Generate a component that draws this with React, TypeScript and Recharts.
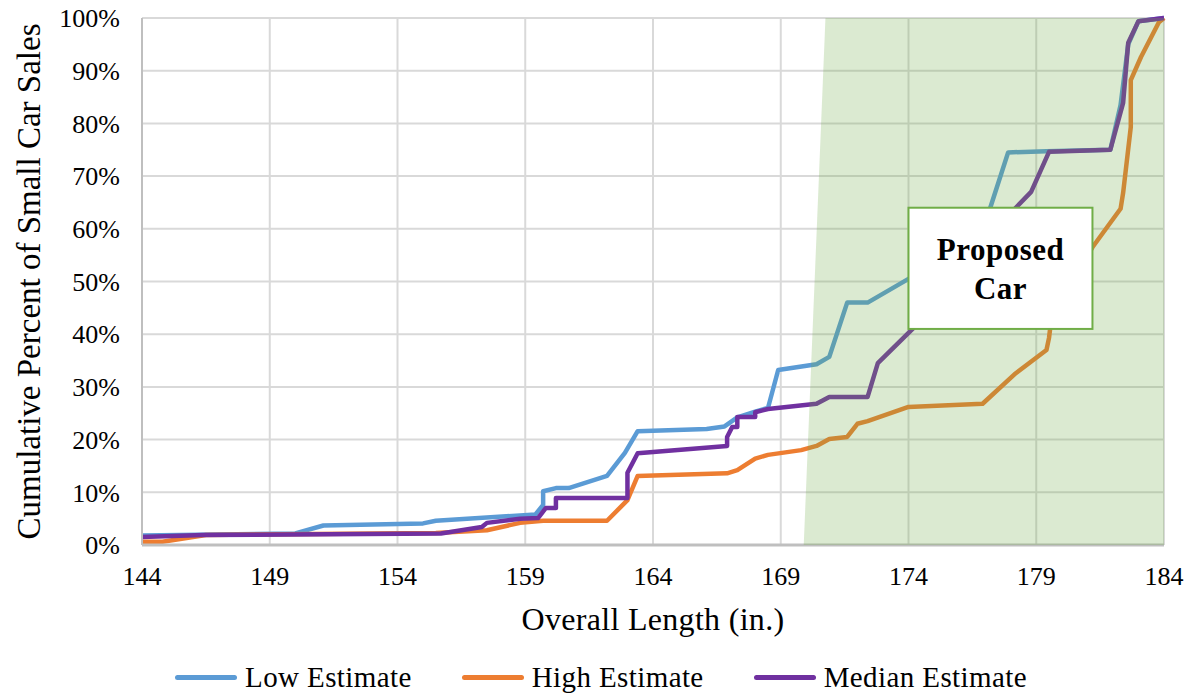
import {
  LineChart,
  Line,
  XAxis,
  YAxis,
  CartesianGrid,
  Legend,
  ReferenceArea,
} from 'recharts';

const FONT = '"Liberation Serif", "Times New Roman", serif';

// overall length (in.) and cumulative percent per series
const lowLength = [144, 150.0, 151.1, 155.0, 155.5, 159.4, 159.7, 159.7, 160.2, 160.7, 162.2, 162.9, 163.4, 166.1, 166.8, 167.3, 168.0, 168.5, 168.9, 170.4, 170.9, 171.6, 172.4, 174.0, 176.0, 177.2, 177.9, 179.4, 181.9, 182.3, 182.6, 183.0, 184];
const lowPct = [1.8, 2.2, 3.7, 4.1, 4.6, 5.8, 7.6, 10.2, 10.8, 10.8, 13.1, 17.5, 21.6, 22.0, 22.5, 24.2, 25.3, 26.0, 33.2, 34.3, 35.7, 46.0, 46.0, 50.5, 56.0, 64.0, 74.5, 74.7, 75.0, 83.5, 95.0, 99.4, 100];

const highLength = [144, 144.8, 146.5, 155.5, 157.5, 158.8, 159.7, 162.2, 163.0, 163.4, 166.9, 167.3, 168.0, 168.5, 169.8, 170.4, 170.9, 171.6, 172.0, 172.4, 174.0, 176.9, 178.2, 179.4, 179.5, 179.6, 181.2, 182.3, 182.4, 182.7, 182.7, 183.1, 183.8, 184];
const highPct = [0.6, 0.6, 1.9, 2.3, 2.8, 4.2, 4.6, 4.6, 8.5, 13.1, 13.6, 14.2, 16.4, 17.1, 18.0, 18.8, 20.1, 20.5, 23.0, 23.5, 26.2, 26.8, 32.6, 37.0, 39.3, 43.3, 56.5, 63.8, 66.8, 79.3, 88.2, 92.6, 99.2, 100];

const medianLength = [144, 146.4, 155.7, 157.3, 157.5, 158.8, 159.5, 159.8, 160.2, 160.2, 163.0, 163.0, 163.4, 166.9, 166.9, 167.1, 167.3, 167.3, 168.0, 168.0, 168.5, 170.4, 170.9, 172.4, 172.8, 174.2, 178.2, 178.8, 179.5, 181.9, 182.4, 182.6, 183.0, 184];
const medianPct = [1.5, 1.9, 2.2, 3.4, 4.2, 5.0, 5.1, 7.0, 7.0, 8.9, 8.9, 13.7, 17.4, 18.8, 20.5, 22.4, 22.4, 24.3, 24.3, 25.2, 25.8, 26.8, 28.1, 28.1, 34.5, 41.2, 64.0, 67.0, 74.6, 75.0, 83.9, 95.3, 99.4, 100];

const xTicks = [144, 149, 154, 159, 164, 169, 174, 179, 184];
const yTicks = [0, 10, 20, 30, 40, 50, 60, 70, 80, 90, 100];

// shaded "target" zone (slanted left edge) and the annotation box
const zoneBottomLeft = 169.9;
const zoneTopLeft = 170.75;
const zoneRight = 184;
const boxX = [174, 181.2];
const boxY = [41, 64];
const boxText = ['Proposed', 'Car'];

const series = [
  { name: 'Low Estimate', color: '#5B9BD5', length: lowLength, pct: lowPct },
  { name: 'High Estimate', color: '#ED7D31', length: highLength, pct: highPct },
  { name: 'Median Estimate', color: '#7030A0', length: medianLength, pct: medianPct },
];

const toPoints = (xs: number[], ys: number[]) => xs.map((x, i) => ({ x, y: ys[i] }));

const ZoneShape = (props: any) => {
  const { x, y, width, height } = props;
  const slant = (width * (zoneTopLeft - zoneBottomLeft)) / (zoneRight - zoneBottomLeft);
  const pts = `${x},${y + height} ${x + slant},${y} ${x + width},${y} ${x + width},${y + height}`;
  return <polygon points={pts} fill="#70AD47" fillOpacity={0.25} />;
};

const BoxShape = (props: any) => {
  const { x, y, width, height } = props;
  const cx = x + width / 2;
  const cy = y + height / 2;
  return (
    <g>
      <rect x={x} y={y} width={width} height={height} fill="#fff" stroke="#70AD47" strokeWidth={2} />
      {boxText.map((t, i) => (
        <text
          key={t}
          x={cx}
          y={cy + (i - 0.5) * 39 + 11}
          textAnchor="middle"
          fontFamily={FONT}
          fontWeight="bold"
          fontSize={31}
          letterSpacing={0.5}
          fill="#000"
        >
          {t}
        </text>
      ))}
    </g>
  );
};

const LegendContent = () => (
  <div
    style={{
      display: 'flex',
      justifyContent: 'center',
      alignItems: 'center',
      height: 57,
      paddingTop: 17,
      paddingLeft: 38,
      boxSizing: 'border-box',
      fontFamily: FONT,
      fontSize: 29,
      letterSpacing: 0.4,
      color: '#000',
    }}
  >
    {series.map((s, i) => (
      <div key={s.name} style={{ display: 'flex', alignItems: 'center', marginLeft: i === 0 ? 0 : 50 }}>
        <div style={{ width: 62, height: 5, borderRadius: 2.5, background: s.color, marginRight: 8 }} />
        <span>{s.name}</span>
      </div>
    ))}
  </div>
);

const App = () => {
  return (
    <div style={{ position: 'absolute', left: 0, top: 0, background: '#fff' }}>
      <LineChart width={1191} height={697} margin={{ top: 18, right: 27, bottom: 0, left: 0 }}>
        <CartesianGrid stroke="#d9d9d9" strokeWidth={2} />
        <XAxis
          type="number"
          dataKey="x"
          domain={[144, 184]}
          ticks={xTicks}
          allowDuplicatedCategory={false}
          height={95}
          stroke="#bfbfbf"
          strokeWidth={3}
          tickLine={false}
          tickSize={0}
          tickMargin={22}
          tick={{ fill: '#000', fontFamily: FONT, fontSize: 26 }}
          label={(p: any) => {
            const vb = p.viewBox;
            return (
              <text x={vb.x + vb.width / 2} y={vb.y + 85} textAnchor="middle" fontFamily={FONT} fontSize={32} letterSpacing={0.3} fill="#000">
                Overall Length (in.)
              </text>
            );
          }}
        />
        <YAxis
          type="number"
          domain={[0, 100]}
          ticks={yTicks}
          width={142}
          stroke="#bfbfbf"
          strokeWidth={2}
          tickLine={false}
          tickSize={0}
          tickMargin={22}
          tickFormatter={(v: number) => `${v}%`}
          tick={{ fill: '#000', fontFamily: FONT, fontSize: 26 }}
          label={(p: any) => {
            const vb = p.viewBox;
            const cy = vb.y + vb.height / 2;
            const lx = vb.x + 40;
            return (
              <text
                x={lx}
                y={cy}
                transform={`rotate(-90, ${lx}, ${cy})`}
                textAnchor="middle"
                fontFamily={FONT}
                fontSize={33}
                fill="#000"
              >
                Cumulative Percent of Small Car Sales
              </text>
            );
          }}
        />
        {series.map((s) => (
          <Line
            key={s.name}
            data={toPoints(s.length, s.pct)}
            dataKey="y"
            name={s.name}
            type="linear"
            stroke={s.color}
            strokeWidth={4.5}
            strokeLinejoin="round"
            dot={false}
            activeDot={false}
            isAnimationActive={false}
          />
        ))}
        <ReferenceArea
          x1={zoneBottomLeft}
          x2={zoneRight}
          y1={0}
          y2={100}
          shape={ZoneShape}
          zIndex={500}
          ifOverflow="visible"
        />
        <ReferenceArea x1={boxX[0]} x2={boxX[1]} y1={boxY[0]} y2={boxY[1]} shape={BoxShape} zIndex={600} />
        <Legend verticalAlign="bottom" height={57} content={LegendContent} />
      </LineChart>
    </div>
  );
};

export default App;
